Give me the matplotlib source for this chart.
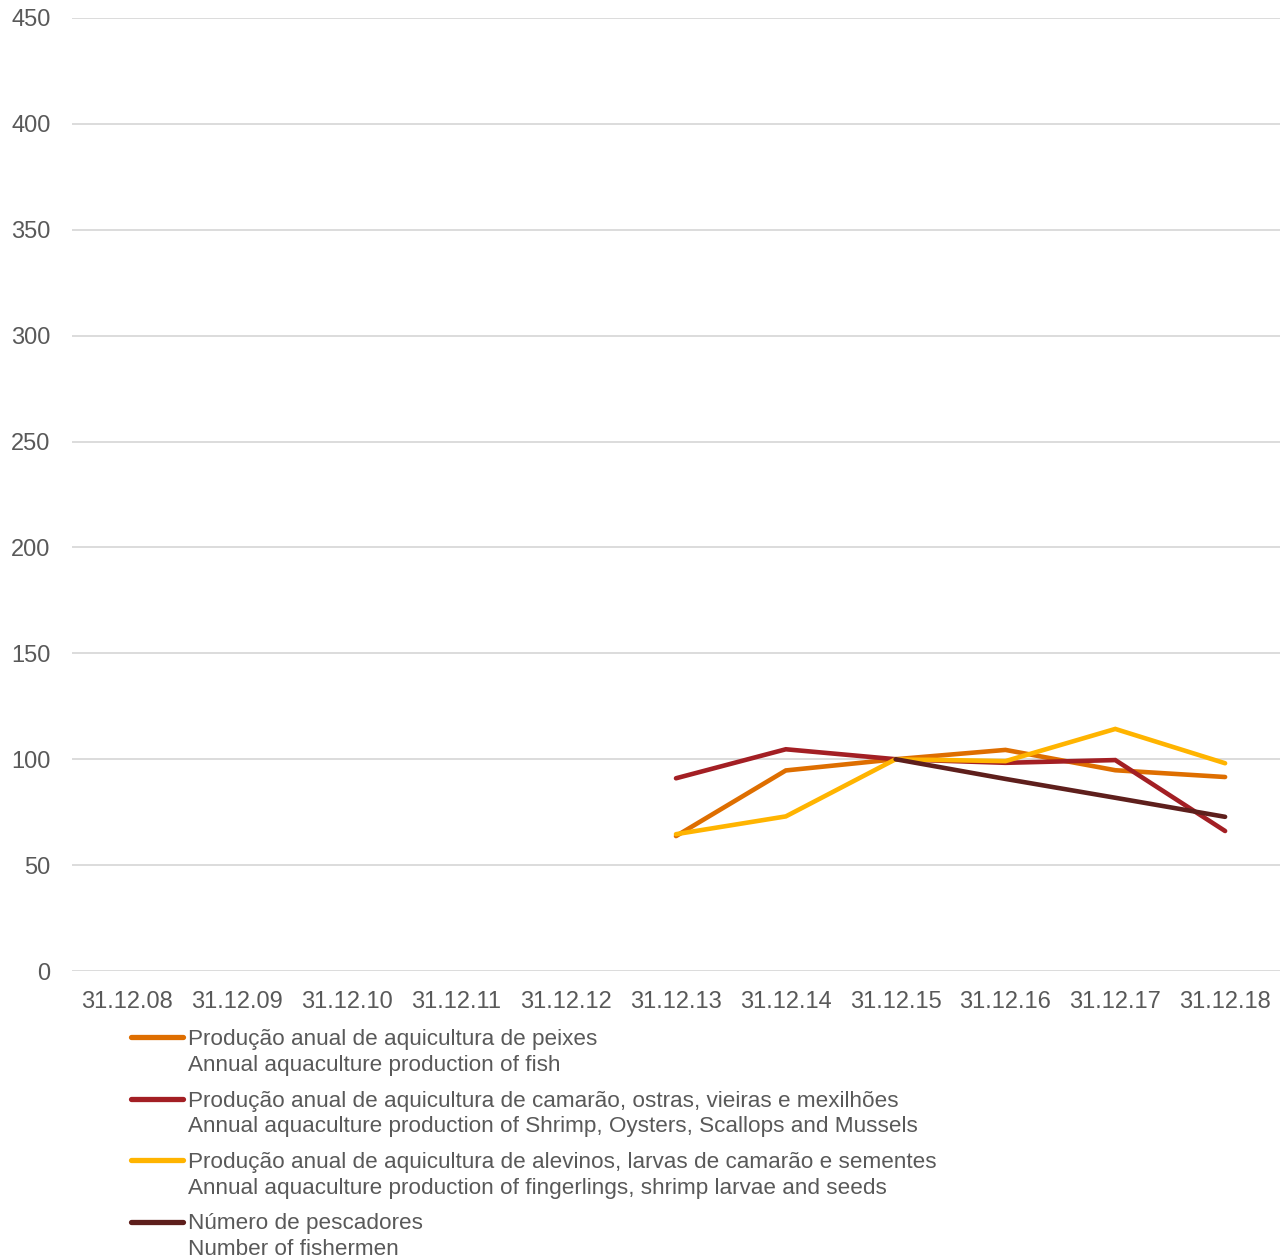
import matplotlib
matplotlib.use("Agg")
import matplotlib.pyplot as plt
from matplotlib.lines import Line2D
import numpy as np

plt.rcParams['font.family'] = ['Liberation Sans', 'DejaVu Sans']

categories = ["31.12.08", "31.12.09", "31.12.10", "31.12.11", "31.12.12", "31.12.13",
              "31.12.14", "31.12.15", "31.12.16", "31.12.17", "31.12.18"]
nan = np.nan
fish = [nan, nan, nan, nan, nan, 63.7, 94.7, 100, 104.4, 94.8, 91.6]
shrimp = [nan, nan, nan, nan, nan, 91.0, 104.7, 100, 98.3, 99.6, 66.1]
fingerlings = [nan, nan, nan, nan, nan, 64.6, 73.0, 100, 99.1, 114.3, 98.1]
fishermen = [nan, nan, nan, nan, nan, nan, nan, 100, 90.7, 81.8, 72.8]

series = [
    (fish, "#DE6E00", "Produção anual de aquicultura de peixes\nAnnual aquaculture production of fish"),
    (shrimp, "#A31F24", "Produção anual de aquicultura de camarão, ostras, vieiras e mexilhões\nAnnual aquaculture production of Shrimp, Oysters, Scallops and Mussels"),
    (fingerlings, "#FFB400", "Produção anual de aquicultura de alevinos, larvas de camarão e sementes\nAnnual aquaculture production of fingerlings, shrimp larvae and seeds"),
    (fishermen, "#5E1F1C", "Número de pescadores\nNumber of fishermen"),
]

W, H = 1285, 1258
fig = plt.figure(figsize=(W / 100, H / 100), dpi=100)
ax = fig.add_axes([72 / W, 1 - 971 / H, (1280 - 72) / W, (971 - 18) / H])

x = np.arange(len(categories))
for vals, col, lab in series:
    ax.plot(x, vals, color=col, lw=3.3, solid_capstyle='round', solid_joinstyle='miter', zorder=3)

ax.set_xlim(-0.5, len(categories) - 0.5)
ax.set_ylim(0, 450)
ax.set_yticks(np.arange(0, 451, 50))
ax.set_xticks(x)
ax.set_xticklabels(categories)
ax.grid(axis='y', color='#D9D9D9', lw=1.3, zorder=0)
for s in ax.spines.values():
    s.set_visible(False)
ax.tick_params(axis='both', length=0, labelsize=17, labelcolor='#595959')
ax.tick_params(axis='y', pad=15.5)
ax.tick_params(axis='x', pad=14.5)

# legend
y0 = 1037
step = 61.5
for i, (vals, col, lab) in enumerate(series):
    yy = y0 + i * step
    fig.add_artist(Line2D([131 / W, 183 / W], [1 - yy / H, 1 - yy / H], color=col, lw=3.8,
                          solid_capstyle='round', transform=fig.transFigure))
    fig.text(188 / W, 1 - (yy - 8) / H, lab, ha='left', va='top', fontsize=16.2,
             color='#595959', linespacing=1.3)

fig.savefig("out.png", dpi=100, facecolor='white')
